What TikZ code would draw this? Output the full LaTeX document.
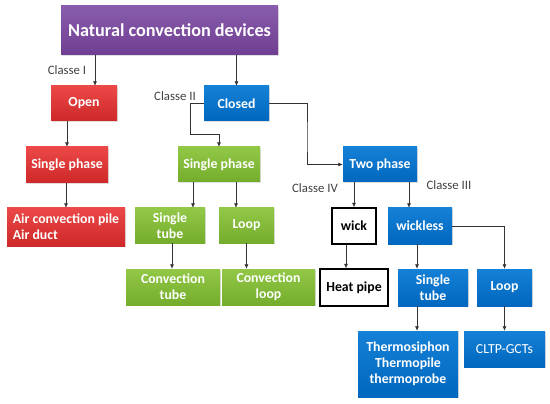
\documentclass[tikz,border=0pt]{standalone}
\usepackage{fontspec}
\setmainfont{Carlito}
\usetikzlibrary{arrows.meta,shadows}
\definecolor{purpA}{RGB}{136,92,172}
\definecolor{purpB}{RGB}{112,62,146}
\definecolor{redA}{RGB}{236,72,72}
\definecolor{redB}{RGB}{206,40,40}
\definecolor{grnA}{RGB}{146,200,70}
\definecolor{grnB}{RGB}{116,172,44}
\definecolor{bluA}{RGB}{20,128,214}
\definecolor{bluB}{RGB}{0,104,190}
\definecolor{lbl}{RGB}{64,64,64}
\begin{document}
\begin{tikzpicture}[x=1pt,y=-1pt,
    box/.style={inner sep=0pt, align=center, text=white,
      font=\bfseries\fontsize{13.8}{15.8}\selectfont,
      drop shadow={shadow xshift=1pt, shadow yshift=-1pt, opacity=0.25}},
    redbox/.style={box, top color=redA, bottom color=redB},
    grnbox/.style={box, top color=grnA, bottom color=grnB},
    blubox/.style={box, top color=bluA, bottom color=bluB},
    whtbox/.style={box, fill=white, draw=black, line width=1.3pt, text=black},
    cls/.style={text=lbl, font=\fontsize{12.8}{14}\selectfont},
    arr/.style={-{Latex[length=4.5pt,width=4pt]}, line width=0.65pt, draw=black!80}]
  \useasboundingbox (0,0) rectangle (550,404);
  % top
  \node[box, top color=purpA, bottom color=purpB, minimum width=217pt, minimum height=49pt,
    font=\bfseries\fontsize{18.2}{22}\selectfont] (nc) at (169.5,30.5) {Natural convection devices};
  % class I
  \node[redbox, minimum width=66pt, minimum height=35pt] (open) at (84,103.5) {Open};
  \node[redbox, minimum width=82pt, minimum height=36pt] (sp1) at (67,165) {Single phase};
  \node[redbox, minimum width=118pt, minimum height=38pt, align=left] (air) at (66,227) {Air convection pile\\ Air duct};
  % class II
  \node[blubox, minimum width=65pt, minimum height=35pt] (closed) at (236.5,103.5) {Closed};
  \node[grnbox, minimum width=82pt, minimum height=35pt] (sp2) at (219,164.5) {Single phase};
  \node[grnbox, minimum width=70pt, minimum height=35pt] (st1) at (170,225.5) {Single\\tube};
  \node[grnbox, minimum width=55pt, minimum height=35pt] (lp1) at (246.5,225.5) {Loop};
  \node[grnbox, minimum width=94pt, minimum height=36pt] (ct) at (173,287) {Convection\\tube};
  \node[grnbox, minimum width=93pt, minimum height=36pt] (cl) at (268.5,287) {Convection\\loop};
  % two phase
  \node[blubox, minimum width=74pt, minimum height=35pt] (two) at (380,164.5) {Two phase};
  \node[whtbox, minimum width=44pt, minimum height=36pt] (wick) at (354,226) {wick};
  \node[blubox, minimum width=64pt, minimum height=36pt] (wl) at (420,226) {wickless};
  \node[whtbox, minimum width=68pt, minimum height=37pt] (hp) at (354,287.5) {Heat pipe};
  \node[blubox, minimum width=70pt, minimum height=37pt] (st2) at (433,287.5) {Single\\tube};
  \node[blubox, minimum width=55pt, minimum height=37pt] (lp2) at (504.5,287.5) {Loop};
  \node[blubox, minimum width=100pt, minimum height=66pt] (ts) at (408,364) {Thermosiphon\\Thermopile\\thermoprobe};
  \node[blubox, minimum width=81pt, minimum height=36pt, font=\fontsize{13.8}{15.8}\selectfont] (cg) at (504.5,349) {CLTP-GCTs};
  % labels
  \node[cls] (c1) at (67,70) {Classe I};
  \node[cls] (c2) at (175,96) {Classe II};
  \node[cls] (c4) at (315,188) {Classe IV};
  \node[cls] (c3) at (449,185.5) {Classe III};
  % connectors
  \coordinate (k1) at (190,134);
  \coordinate (k2) at (307,140);
  \draw[arr] ([xshift=11pt]open.north |- nc.south) -- ([xshift=11pt]open.north);
  \draw[arr] (closed.north |- nc.south) -- (closed.north);
  \draw[arr] (open.south -| sp1.north) -- (sp1.north);
  \draw[arr] (sp1.south -| air.north) -- (air.north);
  \draw[arr] (closed.west) -| (k1) -| (sp2.north);
  \draw[arr] (closed.east) -| (k2) |- (two.west);
  \draw[arr] ([xshift=-26pt]sp2.south) -- ([xshift=-26pt]sp2.south |- st1.north);
  \draw[arr] ([xshift=17pt]sp2.south) -- ([xshift=17pt]sp2.south |- lp1.north);
  \draw[arr] ([xshift=2pt]st1.south) -- ([xshift=2pt]st1.south |- ct.north);
  \draw[arr] (lp1.south) -- (lp1.south |- cl.north);
  \draw[arr] (two.south -| wick.north) -- (wick.north);
  \draw[arr] ([xshift=29pt]two.south) -- ([xshift=29pt]two.south |- wl.north);
  \draw[arr] (wl.east) -| (lp2.north);
  \draw[arr] ([xshift=-8pt]wick.south) -- ([xshift=-8pt]wick.south |- hp.north);
  \draw[arr] ([xshift=-16pt]st2.north |- wl.south) -- ([xshift=-16pt]st2.north);
  \draw[arr] ([xshift=-16pt]st2.south) -- ([xshift=-16pt]st2.south |- ts.north);
  \draw[arr] (lp2.south) -- (lp2.south |- cg.north);
\end{tikzpicture}
\end{document}
